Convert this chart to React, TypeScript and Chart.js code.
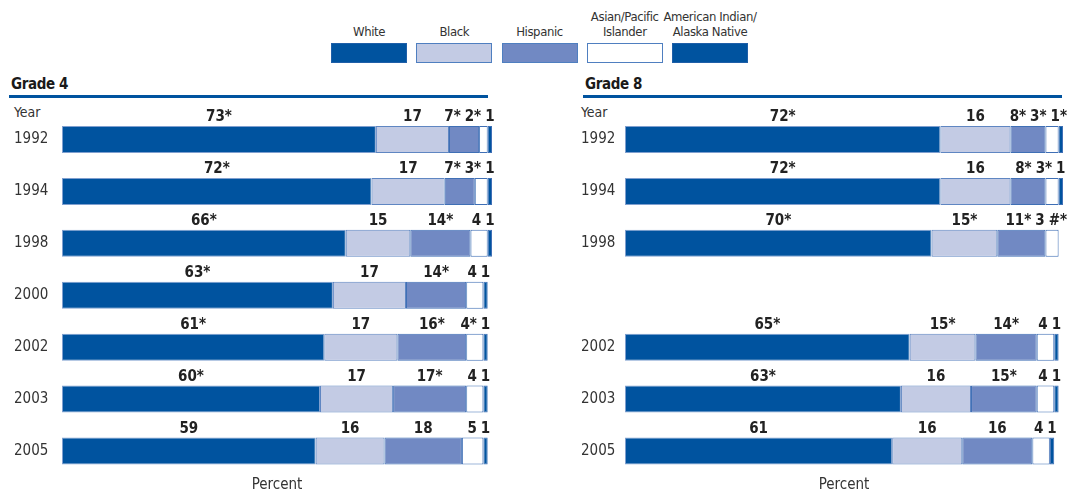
import React, { useEffect, useRef } from 'react';
import { Chart, registerables } from 'chart.js';

Chart.register(...registerables);

const FONT = "'Liberation Sans Narrow', 'DejaVu Sans Condensed', 'Roboto', sans-serif";

// Categories
const g4Years = ['1992', '1994', '1998', '2000', '2002', '2003', '2005'];
const g8Years = ['1992', '1994', '1998', '', '2002', '2003', '2005'];

// Series names / colours
const seriesNames = ['White', 'Black', 'Hispanic', 'Asian/Pacific Islander', 'American Indian/Alaska Native'];
const legendLines = [['White'], ['Black'], ['Hispanic'], ['Asian/Pacific', 'Islander'], ['American Indian/', 'Alaska Native']];
const fillColors = ['#00539f', '#c3cbe4', '#7189c3', '#ffffff', '#00539f'];
const edgeColors = ['#7f9fcf', '#5f86c2', '#3f6fb5', '#3f6fb5', '#3f6fb5'];

// Grade 4 values (percent) and significance marks
const g4White = [73, 72, 66, 63, 61, 60, 59];
const g4Black = [17, 17, 15, 17, 17, 17, 16];
const g4Hispanic = [7, 7, 14, 14, 16, 17, 18];
const g4Asian = [2, 3, 4, 4, 4, 4, 5];
const g4AmInd = [1, 1, 1, 1, 1, 1, 1];
const g4WhiteMark = ['*', '*', '*', '*', '*', '*', ''];
const g4BlackMark = ['', '', '', '', '', '', ''];
const g4HispanicMark = ['*', '*', '*', '*', '*', '*', ''];
const g4AsianMark = ['*', '*', '', '', '*', '', ''];
const g4AmIndMark = ['', '', '', '', '', '', ''];

// Grade 8 values (percent) and significance marks (no 2000 assessment)
const g8White = [72, 72, 70, null, 65, 63, 61];
const g8Black = [16, 16, 15, null, 15, 16, 16];
const g8Hispanic = [8, 8, 11, null, 14, 15, 16];
const g8Asian = [3, 3, 3, null, 4, 4, 4];
const g8AmInd = [1, 1, 0, null, 1, 1, 1];
const g8WhiteMark = ['*', '*', '*', '', '*', '*', ''];
const g8BlackMark = ['', '', '*', '', '*', '', ''];
const g8HispanicMark = ['*', '*', '*', '', '*', '*', ''];
const g8AsianMark = ['*', '*', '', '', '', '', ''];
const g8AmIndMark = ['*', '', '*', '', '', '', ''];

const segLabelPlugin = {
  id: 'segLabels',
  afterDatasetsDraw(chart: any, _args: any, opts: any) {
    const { ctx } = chart;
    const marks: string[][] = opts.marks || [];
    ctx.save();
    ctx.font = `bold 15px ${FONT}`;
    ctx.fillStyle = '#222222';
    ctx.textAlign = 'center';
    ctx.textBaseline = 'alphabetic';
    const n = chart.data.labels.length;
    for (let i = 0; i < n; i++) {
      const items: any[] = [];
      chart.data.datasets.forEach((ds: any, d: number) => {
        const v = ds.data[i];
        if (v === null || v === undefined) return;
        const el = chart.getDatasetMeta(d).data[i];
        const p = el.getProps(['x', 'base', 'y', 'height'], true);
        const text = (v === 0 ? '#' : String(v)) + (marks[d] ? marks[d][i] : '');
        const w = ctx.measureText(text).width;
        items.push({ text, cx: (p.x + p.base) / 2, w, top: p.y - p.height / 2 });
      });
      let limit = chart.chartArea.right + 4;
      for (let k = items.length - 1; k >= 0; k--) {
        const it = items[k];
        it.cx = Math.min(it.cx, limit - it.w / 2);
        limit = it.cx - it.w / 2 - 4;
      }
      items.forEach((it) => ctx.fillText(it.text, it.cx, it.top - 5));
    }
    ctx.restore();
  },
};

type PanelProps = {
  left: number;
  width: number;
  padLeft: number;
  padRight: number;
  yWidth: number;
  labels: string[];
  series: (number | null)[][];
  marks: string[][];
};

function Panel({ left, width, padLeft, padRight, yWidth, labels, series, marks }: PanelProps) {
  const ref = useRef<HTMLCanvasElement>(null);
  useEffect(() => {
    if (!ref.current) return;
    const chart = new Chart(ref.current, {
      type: 'bar',
      data: {
        labels,
        datasets: series.map((data, d) => ({
          label: seriesNames[d],
          data,
          backgroundColor: fillColors[d],
          borderColor: edgeColors[d],
          borderWidth: 1,
          borderSkipped: false,
          barPercentage: 0.52,
          categoryPercentage: 1,
        })),
      },
      options: {
        indexAxis: 'y',
        animation: false,
        responsive: false,
        maintainAspectRatio: false,
        layout: { padding: { left: padLeft, right: padRight, top: 13.5, bottom: 0 } },
        plugins: {
          legend: { display: false },
          tooltip: { enabled: false },
          segLabels: { marks },
        } as any,
        scales: {
          x: {
            stacked: true,
            min: 0,
            max: 100,
            ticks: { display: false },
            grid: { display: false, drawTicks: false },
            border: { display: false },
            title: {
              display: true,
              text: 'Percent',
              color: '#333333',
              font: { family: FONT, size: 15, lineHeight: 16 / 15 },
              padding: 0,
            },
          },
          y: {
            stacked: true,
            ticks: {
              crossAlign: 'far',
              color: '#333333',
              padding: 0,
              font: { family: FONT, size: 15 },
            },
            grid: { display: false, drawTicks: false },
            border: { display: false },
            afterFit: (scale: any) => {
              scale.width = yWidth;
            },
          },
        },
      },
      plugins: [segLabelPlugin],
    } as any);
    return () => chart.destroy();
  }, []);
  return (
    <canvas
      ref={ref}
      width={width}
      height={393}
      style={{ position: 'absolute', left, top: 100, width, height: 393 }}
    />
  );
}

const textStyle: React.CSSProperties = { position: 'absolute', fontFamily: FONT, color: '#333333', whiteSpace: 'nowrap' };

export default function App() {
  const legendLeft = 331;
  const legendStep = 85.25;
  return (
    <div style={{ position: 'absolute', left: 0, top: 0, width: 1073, height: 493, background: '#ffffff', overflow: 'hidden' }}>
      {legendLines.map((lines, i) => (
        <React.Fragment key={i}>
          <div
            style={{
              ...textStyle,
              left: legendLeft + i * legendStep - 12,
              top: 9,
              width: 100,
              height: 30,
              fontSize: 13,
              letterSpacing: '-0.4px',
              lineHeight: '15px',
              textAlign: 'center',
              display: 'flex',
              flexDirection: 'column',
              justifyContent: 'flex-end',
            }}
          >
            {lines.map((l, k) => (
              <div key={k}>{l}</div>
            ))}
          </div>
          <div
            style={{
              position: 'absolute',
              left: legendLeft + i * legendStep,
              top: 43,
              width: 76,
              height: 20,
              boxSizing: 'border-box',
              background: fillColors[i],
              border: `1px solid ${i === 0 || i === 4 ? '#1f5fa8' : '#4f7fc0'}`,
            }}
          />
        </React.Fragment>
      ))}

      <div style={{ ...textStyle, left: 11, top: 76, fontSize: 15, lineHeight: '16px', letterSpacing: '-0.4px', fontWeight: 'bold', color: '#1a1a1a' }}>Grade 4</div>
      <div style={{ position: 'absolute', left: 9, top: 95, width: 479, height: 3, background: '#00539f' }} />
      <div style={{ ...textStyle, left: 14, top: 105, fontSize: 14, lineHeight: '15px' }}>Year</div>

      <div style={{ ...textStyle, left: 585, top: 76, fontSize: 15, lineHeight: '16px', letterSpacing: '-0.4px', fontWeight: 'bold', color: '#1a1a1a' }}>Grade 8</div>
      <div style={{ position: 'absolute', left: 583, top: 95, width: 479, height: 3, background: '#00539f' }} />
      <div style={{ ...textStyle, left: 581, top: 105, fontSize: 14, lineHeight: '15px' }}>Year</div>

      <Panel
        left={0}
        width={500}
        padLeft={14}
        padRight={8}
        yWidth={48}
        labels={g4Years}
        series={[g4White, g4Black, g4Hispanic, g4Asian, g4AmInd]}
        marks={[g4WhiteMark, g4BlackMark, g4HispanicMark, g4AsianMark, g4AmIndMark]}
      />
      <Panel
        left={567}
        width={506}
        padLeft={14}
        padRight={10}
        yWidth={44}
        labels={g8Years}
        series={[g8White, g8Black, g8Hispanic, g8Asian, g8AmInd]}
        marks={[g8WhiteMark, g8BlackMark, g8HispanicMark, g8AsianMark, g8AmIndMark]}
      />
    </div>
  );
}
